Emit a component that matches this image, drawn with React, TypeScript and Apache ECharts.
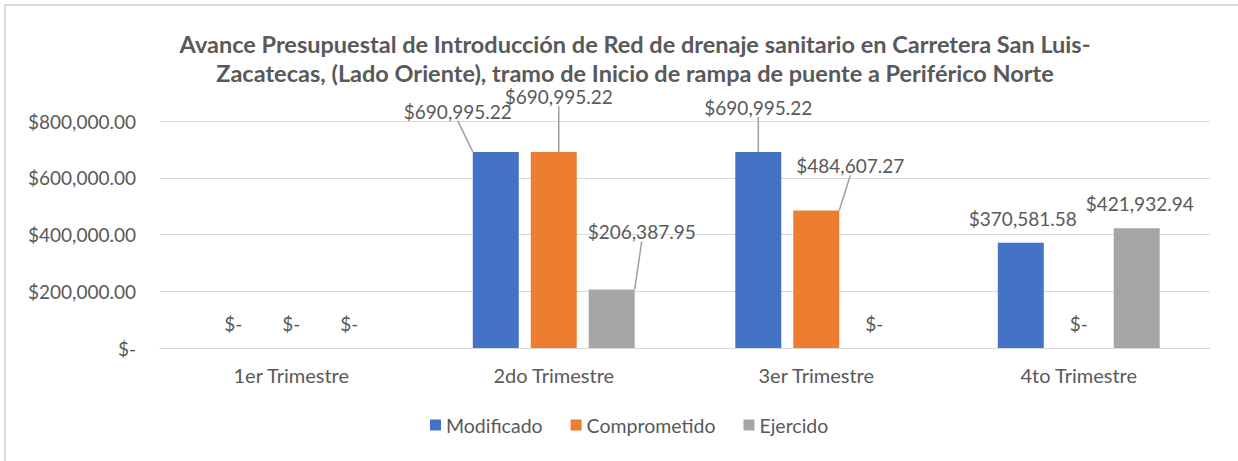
import React, { useEffect, useRef } from "react";
import * as echarts from "echarts";

const categories = ["1er Trimestre", "2do Trimestre", "3er Trimestre", "4to Trimestre"];
const seriesNames = ["Modificado", "Comprometido", "Ejercido"];
const modificado = [0, 690995.22, 690995.22, 370581.58];
const comprometido = [0, 690995.22, 484607.27, 0];
const ejercido = [0, 206387.95, 0, 421932.94];
const yTicks = [0, 200000, 400000, 600000, 800000];

const colors = ["#4472C4", "#ED7D31", "#A5A5A5"];
// label offsets (dx, dy) per series/category, mimicking moved Excel labels
const labelOffsets = [
  [[0, 0], [-38, -16], [0, -20], [2, 0]],
  [[0, 0], [5, -31], [34, -20], [0, 0]],
  [[0, 0], [30, -33], [0, 0], [3, 0]],
];
const leaderShown = [
  [false, true, true, false],
  [false, true, true, false],
  [false, true, false, false],
];

const FONT = "Lato, 'Open Sans', sans-serif";
const TXT = "#595959";

function money(v: number): string {
  if (!v) return "$-";
  return "$" + v.toLocaleString("en-US", { minimumFractionDigits: 2, maximumFractionDigits: 2 });
}

export default function App() {
  const ref = useRef<HTMLDivElement>(null);
  useEffect(() => {
    if (!ref.current) return;
    const chart = echarts.init(ref.current, undefined, { renderer: "svg" });
    const all = [modificado, comprometido, ejercido];
    chart.setOption({
      animation: false,
      backgroundColor: "#ffffff",
      textStyle: { fontFamily: FONT },
      title: {
        text: "Avance Presupuestal de Introducción de Red de drenaje sanitario en Carretera San Luis-\nZacatecas, (Lado Oriente), tramo de Inicio de rampa de puente a Periférico Norte",
        left: 630,
        textAlign: "center",
        top: 24,
        textStyle: { fontFamily: FONT, fontWeight: "bold", fontSize: 23.5, color: TXT, lineHeight: 29 },
      },
      legend: {
        data: seriesNames,
        top: 410,
        left: 425,
        icon: "rect",
        itemWidth: 11,
        itemHeight: 11,
        itemGap: 28,
        textStyle: { fontFamily: FONT, fontSize: 19.5, color: TXT },
      },
      grid: { left: 160, right: 28, top: 121, bottom: 113, containLabel: false },
      xAxis: {
        type: "category",
        data: categories,
        axisTick: { show: false },
        axisLine: { lineStyle: { color: "#D9D9D9", width: 1 } },
        axisLabel: { color: TXT, fontSize: 20, fontFamily: FONT, margin: 17 },
      },
      yAxis: {
        type: "value",
        min: yTicks[0],
        max: yTicks[yTicks.length - 1],
        interval: yTicks[1] - yTicks[0],
        axisLine: { show: false },
        axisTick: { show: false },
        splitLine: { lineStyle: { color: "#D9D9D9", width: 1 } },
        axisLabel: { color: TXT, fontSize: 19, fontFamily: FONT, margin: 24, formatter: (v: number) => money(v) },
      },
      graphic: [
        {
          type: "rect",
          shape: { x: 5, y: 5, width: 2000, height: 2000 },
          style: { fill: "none", stroke: "#D9D9D9", lineWidth: 2 },
          silent: true,
          z: 100,
        },
      ],
      series: all.map((vals, si) => ({
        name: seriesNames[si],
        type: "bar",
        barWidth: 46,
        barGap: "26%",
        clip: false,
        itemStyle: { color: colors[si] },
        labelLine: { show: false, lineStyle: { color: "#A0A0A0", width: 1.5 } },
        data: vals.map((v, ci) => ({
          value: v,
          labelLine: { show: leaderShown[si][ci] },
        })),
        label: {
          show: true,
          position: "top",
          distance: 15,
          color: TXT,
          fontSize: 19,
          fontFamily: FONT,
          formatter: (p: any) => money(p.value),
        },
        labelLayout: (p: any) => {
          const off = labelOffsets[si][p.dataIndex];
          const res: any = { dx: off[0], dy: off[1] };
          if (leaderShown[si][p.dataIndex] && p.rect && p.labelRect) {
            const r = p.rect;
            const lr = p.labelRect;
            const barTop = Math.min(r.y, r.y + r.height);
            const bx = r.x + r.width / 2;
            const lx = lr.x + off[0] + lr.width / 2;
            const ly = lr.y + off[1] + lr.height + 1;
            res.labelLinePoints = [[bx, barTop], [lx, ly]];
          }
          return res;
        },
      })),
    });
    return () => chart.dispose();
  }, []);
  return <div ref={ref} style={{ position: "fixed", left: 0, top: 0, width: 1238, height: 461 }} />;
}
